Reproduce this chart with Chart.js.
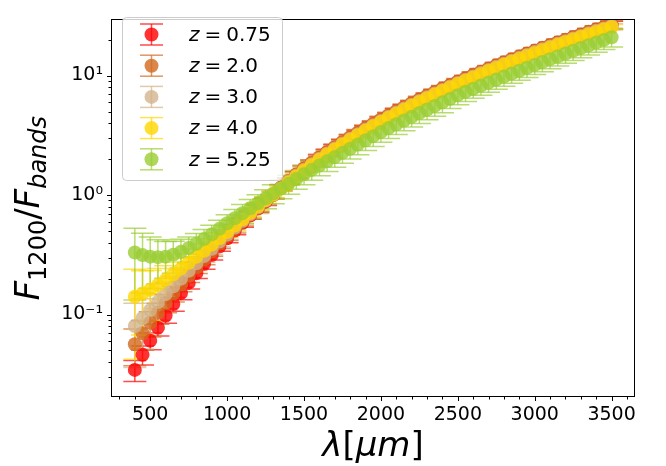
<!DOCTYPE html>
<html>
<head>
<meta charset="utf-8">
<script src="https://cdn.jsdelivr.net/npm/chart.js@4.4.0/dist/chart.umd.min.js"></script>
<style>
  html, body { margin: 0; padding: 0; background: #fff; }
  #wrap { width: 666px; height: 466px; }
</style>
</head>
<body>
<div id="wrap"><canvas id="chart"></canvas></div>
<script>
// --- DATA ---
const lambdaUm = [400, 450, 500, 550, 600, 650, 700, 750, 800, 850, 900, 950, 1000, 1050, 1100, 1150, 1200, 1250, 1300,
  1350, 1400, 1450, 1500, 1550, 1600, 1650, 1700, 1750, 1800, 1850, 1900, 1950, 2000, 2050, 2100, 2150, 2200, 2250,
  2300, 2350, 2400, 2450, 2500, 2550, 2600, 2650, 2700, 2750, 2800, 2850, 2900, 2950, 3000, 3050, 3100, 3150, 3200,
  3250, 3300, 3350, 3400, 3450, 3500];

const zValues = ['0.75', '2.0', '3.0', '4.0', '5.25'];

const ratioZ075 = [0.0344, 0.0461, 0.0604, 0.0776, 0.0982, 0.1226, 0.1509, 0.1839, 0.2219, 0.2654, 0.3149, 0.3710,
  0.4342, 0.5053, 0.5847, 0.6732, 0.7715, 0.8801, 1.000, 1.148, 1.306, 1.479, 1.653, 1.839, 2.041, 2.257, 2.488,
  2.737, 2.999, 3.281, 3.580, 3.898, 4.233, 4.590, 4.967, 5.363, 5.782, 6.223, 6.687, 7.172, 7.684, 8.220, 8.782,
  9.369, 9.984, 10.63, 11.29, 12.00, 12.72, 13.49, 14.26, 15.09, 15.94, 16.82, 17.74, 18.70, 19.69, 20.71, 21.78,
  22.87, 24.00, 25.17, 26.39];
const ratioZ2 = [0.0564, 0.0696, 0.0852, 0.1035, 0.1249, 0.1496, 0.1781, 0.2106, 0.2477, 0.2901, 0.3380, 0.3922,
  0.4532, 0.5220, 0.5989, 0.6856, 0.7823, 0.8903, 1.002, 1.154, 1.312, 1.486, 1.677, 1.866, 2.071, 2.290, 2.524,
  2.776, 3.043, 3.329, 3.632, 3.954, 4.295, 4.657, 5.039, 5.441, 5.865, 6.314, 6.784, 7.275, 7.795, 8.339, 8.909,
  9.505, 10.13, 10.78, 11.46, 12.17, 12.90, 13.68, 14.47, 15.31, 16.17, 17.06, 18.00, 18.97, 19.97, 21.01, 22.09,
  23.21, 24.35, 25.54, 26.78];
const ratioZ3 = [0.0802, 0.0934, 0.1089, 0.1272, 0.1482, 0.1725, 0.2003, 0.2320, 0.2681, 0.3090, 0.3556, 0.4080,
  0.4673, 0.5343, 0.6095, 0.6947, 0.7904, 0.8979, 1.004, 1.142, 1.300, 1.458, 1.629, 1.813, 2.011, 2.225, 2.452,
  2.697, 2.956, 3.233, 3.528, 3.841, 4.172, 4.524, 4.895, 5.286, 5.698, 6.133, 6.590, 7.068, 7.572, 8.101, 8.655,
  9.233, 9.839, 10.48, 11.13, 11.82, 12.54, 13.29, 14.06, 14.87, 15.71, 16.58, 17.48, 18.43, 19.40, 20.41, 21.46,
  22.54, 23.65, 24.81, 26.01];
const ratioZ4 = [0.141, 0.150, 0.161, 0.177, 0.195, 0.217, 0.242, 0.271, 0.304, 0.342, 0.385, 0.435, 0.491, 0.555,
  0.627, 0.710, 0.804, 0.910, 1.010, 1.131, 1.274, 1.429, 1.597, 1.777, 1.972, 2.181, 2.404, 2.644, 2.898, 3.170,
  3.459, 3.766, 4.090, 4.435, 4.799, 5.182, 5.586, 6.013, 6.461, 6.929, 7.424, 7.942, 8.485, 9.052, 9.646, 10.27,
  10.91, 11.59, 12.29, 13.03, 13.78, 14.58, 15.40, 16.25, 17.14, 18.07, 19.02, 20.01, 21.04, 22.10, 23.19, 24.32,
  25.50];
const ratioZ525 = [0.330, 0.315, 0.305, 0.302, 0.305, 0.316, 0.335, 0.360, 0.391, 0.428, 0.470, 0.521, 0.580, 0.640,
  0.705, 0.776, 0.853, 0.938, 1.031, 1.133, 1.240, 1.360, 1.490, 1.623, 1.767, 1.918, 2.082, 2.255, 2.440, 2.645,
  2.870, 3.110, 3.370, 3.632, 3.909, 4.204, 4.517, 4.849, 5.201, 5.573, 5.966, 6.381, 6.850, 7.315, 7.763, 8.234,
  8.730, 9.251, 9.800, 10.38, 10.98, 11.62, 12.28, 12.98, 13.71, 14.48, 15.28, 16.12, 17.00, 17.91, 18.87, 19.87,
  20.91];

// relative (symmetric) errors, fraction of the value
const relErrZ075 = [0.20, 0.18, 0.16, 0.15, 0.14, 0.13, 0.12, 0.11, 0.10, 0.10, 0.09, 0.09, 0.08, 0.08, 0.08, 0.07,
  0.07, 0.07, 0.07, 0.06, 0.06, 0.06, 0.06, 0.06, 0.06, 0.06, 0.06, 0.06, 0.06, 0.06, 0.06, 0.06, 0.06, 0.06, 0.06,
  0.06, 0.06, 0.06, 0.06, 0.06, 0.06, 0.06, 0.06, 0.06, 0.06, 0.06, 0.06, 0.06, 0.06, 0.06, 0.06, 0.06,
  0.065, 0.065, 0.065, 0.07, 0.07, 0.07, 0.075, 0.075, 0.08, 0.08, 0.08];
const relErrZ2 = [0.34, 0.28, 0.24, 0.20, 0.17, 0.15, 0.13, 0.12, 0.11, 0.10, 0.09, 0.09, 0.08, 0.08, 0.08, 0.07,
  0.07, 0.07, 0.07, 0.06, 0.06, 0.06, 0.06, 0.06, 0.06, 0.06, 0.06, 0.06, 0.06, 0.06, 0.06, 0.06, 0.06, 0.06, 0.06,
  0.06, 0.06, 0.06, 0.06, 0.06, 0.06, 0.06, 0.06, 0.06, 0.06, 0.06, 0.06, 0.06, 0.06, 0.06, 0.06, 0.06,
  0.06, 0.06, 0.06, 0.065, 0.065, 0.065, 0.07, 0.07, 0.07, 0.075, 0.075];
const relErrZ3 = [0.55, 0.45, 0.37, 0.30, 0.25, 0.21, 0.18, 0.15, 0.13, 0.12, 0.11, 0.10, 0.09, 0.08, 0.08, 0.07,
  0.07, 0.07, 0.06, 0.05, 0.05, 0.05, 0.05, 0.05, 0.05, 0.05, 0.05, 0.05, 0.05, 0.05, 0.05, 0.05, 0.05, 0.05, 0.05,
  0.05, 0.05, 0.05, 0.05, 0.05, 0.05, 0.05, 0.05, 0.05, 0.05, 0.05, 0.05, 0.05, 0.05, 0.05, 0.05, 0.05,
  0.05, 0.05, 0.05, 0.05, 0.05, 0.05, 0.05, 0.05, 0.05, 0.05, 0.05];
const relErrZ4 = [0.70, 0.55, 0.45, 0.37, 0.31, 0.26, 0.22, 0.19, 0.16, 0.14, 0.12, 0.11, 0.10, 0.09, 0.08, 0.07,
  0.07, 0.06, 0.06, 0.05, 0.05, 0.05, 0.05, 0.05, 0.05, 0.05, 0.05, 0.05, 0.05, 0.05, 0.05, 0.05, 0.05, 0.05, 0.05,
  0.05, 0.05, 0.05, 0.05, 0.05, 0.05, 0.05, 0.05, 0.05, 0.05, 0.05, 0.05, 0.05, 0.05, 0.05, 0.05, 0.05,
  0.05, 0.05, 0.05, 0.05, 0.05, 0.05, 0.05, 0.05, 0.05, 0.05, 0.05];
const relErrZ525 = [0.60, 0.52, 0.46, 0.40, 0.34, 0.30, 0.27, 0.24, 0.22, 0.20, 0.19, 0.18, 0.18, 0.18, 0.18, 0.18,
  0.18, 0.18, 0.18, 0.18, 0.18, 0.18, 0.18, 0.18, 0.18, 0.18, 0.18, 0.18, 0.18, 0.18, 0.18, 0.18, 0.18, 0.18, 0.18,
  0.18, 0.18, 0.18, 0.18, 0.18, 0.18, 0.17, 0.17, 0.17, 0.17, 0.17, 0.17, 0.17, 0.17, 0.17, 0.17, 0.17, 0.17, 0.17,
  0.17, 0.17, 0.17, 0.17, 0.17, 0.17, 0.17, 0.17, 0.17];

const ratios = [ratioZ075, ratioZ2, ratioZ3, ratioZ4, ratioZ525];
const relErrors = [relErrZ075, relErrZ2, relErrZ3, relErrZ4, relErrZ525];

// axis ticks
const xMajorTicks = [500, 1000, 1500, 2000, 2500, 3000, 3500];
const xMinorTicks = [300, 400, 600, 700, 800, 900, 1100, 1200, 1300, 1400, 1600, 1700, 1800, 1900, 2100, 2200, 2300,
  2400, 2600, 2700, 2800, 2900, 3100, 3200, 3300, 3400, 3600];
const yMajorTicks = [0.1, 1, 10];
const yTickLabels = ['10\u207B\u00B9', '10\u2070', '10\u00B9'];
const yMinorTicks = [0.03, 0.04, 0.05, 0.06, 0.07, 0.08, 0.09, 0.2, 0.3, 0.4, 0.5, 0.6, 0.7, 0.8, 0.9,
  2, 3, 4, 5, 6, 7, 8, 9, 20];

// --- STYLE ---
const FONT = "'DejaVu Sans', sans-serif";
const seriesRGB = ['255,0,0', '210,105,30', '210,180,140', '255,215,0', '154,205,50'];
const MARKER_R = 7;
const CAP = 11.5;

// ===========================================
// PLUGINS
// ===========================================

function drawErrorBar(ctx, px, top, bot, cap) {
    ctx.beginPath();
    ctx.moveTo(px, top); ctx.lineTo(px, bot);
    ctx.stroke();
    ctx.beginPath();
    ctx.moveTo(px - cap, top); ctx.lineTo(px + cap, top);
    ctx.stroke();
    ctx.beginPath();
    ctx.moveTo(px - cap, bot); ctx.lineTo(px + cap, bot);
    ctx.stroke();
}

// all error bars sit below all markers (like matplotlib's errorbar zorder)
const errorBarPlugin = {
    id: 'errorBars',
    beforeDatasetsDraw(chart) {
        const xs = chart.scales.x, ys = chart.scales.y;
        const a = chart.chartArea, ctx = chart.ctx;
        ctx.save();
        ctx.beginPath();
        ctx.rect(a.left, a.top, a.right - a.left, a.bottom - a.top);
        ctx.clip();
        ctx.lineWidth = 1.5;
        chart.data.datasets.forEach(ds => {
            ctx.strokeStyle = ds.barColor;
            ds.data.forEach((p, i) => {
                const e = p.y * ds.relErr[i];
                drawErrorBar(ctx, xs.getPixelForValue(p.x), ys.getPixelForValue(p.y + e),
                    ys.getPixelForValue(p.y - e), CAP);
            });
        });
        ctx.restore();
    }
};

// draws text made of runs with different fonts / offsets
function runsWidth(ctx, runs) {
    let w = 0;
    runs.forEach(r => { ctx.font = r.font; w += ctx.measureText(r.t).width + (r.gap || 0); });
    return w;
}
function drawRuns(ctx, runs, x, y) {
    runs.forEach(r => {
        ctx.font = r.font;
        ctx.fillText(r.t, x, y + (r.dy || 0));
        x += ctx.measureText(r.t).width + (r.gap || 0);
    });
}

const framePlugin = {
    id: 'frame',
    afterDatasetsDraw(chart) {
        const ctx = chart.ctx, a = chart.chartArea;
        const xs = chart.scales.x, ys = chart.scales.y;
        ctx.save();
        ctx.strokeStyle = '#000';
        ctx.lineWidth = 1;
        ctx.strokeRect(Math.round(a.left) + 0.5, Math.round(a.top) + 0.5,
            Math.round(a.right - a.left) - 1, Math.round(a.bottom - a.top) - 1);
        const bottom = Math.round(a.bottom);
        const left = Math.round(a.left);
        ctx.beginPath();
        xMajorTicks.forEach(v => {
            const px = Math.round(xs.getPixelForValue(v)) + 0.5;
            ctx.moveTo(px, bottom); ctx.lineTo(px, bottom + 4);
        });
        xMinorTicks.forEach(v => {
            const px = Math.round(xs.getPixelForValue(v)) + 0.5;
            ctx.moveTo(px, bottom); ctx.lineTo(px, bottom + 2.5);
        });
        yMajorTicks.forEach(v => {
            const py = Math.round(ys.getPixelForValue(v)) + 0.5;
            ctx.moveTo(left, py); ctx.lineTo(left - 4, py);
        });
        yMinorTicks.forEach(v => {
            const py = Math.round(ys.getPixelForValue(v)) + 0.5;
            ctx.moveTo(left, py); ctx.lineTo(left - 2.5, py);
        });
        ctx.stroke();
        ctx.restore();
    },
    afterDraw(chart) {
        const ctx = chart.ctx, a = chart.chartArea;
        ctx.save();
        ctx.fillStyle = '#000';
        ctx.textBaseline = 'alphabetic';

        // x title: lambda [mu m]
        const big = '34px ' + FONT, bigI = 'italic 34px ' + FONT;
        const xRuns = [{ t: '\u03BB', font: bigI }, { t: '[', font: big }, { t: '\u03BCm', font: bigI }, { t: ']', font: big }];
        const xw = runsWidth(ctx, xRuns);
        drawRuns(ctx, xRuns, (a.left + a.right) / 2 - xw / 2, 456);

        // y title: F_1200 / F_bands
        const sub = '24px ' + FONT, subI = 'italic 24px ' + FONT;
        const yRuns = [{ t: 'F', font: bigI }, { t: '1200', font: sub, dy: 7 }, { t: '/', font: big },
            { t: 'F', font: bigI }, { t: 'bands', font: subI, dy: 7 }];
        const yw = runsWidth(ctx, yRuns);
        ctx.translate(39, (a.top + a.bottom) / 2);
        ctx.rotate(-Math.PI / 2);
        drawRuns(ctx, yRuns, -yw / 2, 0);
        ctx.restore();

        // legend
        ctx.save();
        const bx = 122.5, by = 17.5, bw = 160, bh = 163, r = 4;
        ctx.beginPath();
        ctx.moveTo(bx + r, by);
        ctx.arcTo(bx + bw, by, bx + bw, by + bh, r);
        ctx.arcTo(bx + bw, by + bh, bx, by + bh, r);
        ctx.arcTo(bx, by + bh, bx, by, r);
        ctx.arcTo(bx, by, bx + bw, by, r);
        ctx.closePath();
        ctx.fillStyle = 'rgba(255,255,255,0.8)';
        ctx.fill();
        ctx.strokeStyle = '#cccccc';
        ctx.lineWidth = 1;
        ctx.stroke();

        ctx.textBaseline = 'middle';
        chart.data.datasets.forEach((ds, k) => {
            const cy = 34.5 + k * 31.2;
            const mx = 151.5;
            ctx.strokeStyle = ds.barColor;
            ctx.lineWidth = 1.5;
            drawErrorBar(ctx, mx, cy - 10.5, cy + 10.5, CAP);
            ctx.beginPath();
            ctx.arc(mx, cy, MARKER_R, 0, Math.PI * 2);
            ctx.fillStyle = ds.backgroundColor;
            ctx.fill();
            ctx.fillStyle = '#000';
            drawRuns(ctx, [{ t: 'z', font: 'italic 20px ' + FONT, gap: 5 }, { t: '=', font: '20px ' + FONT, gap: 5 },
                { t: zValues[k], font: '20px ' + FONT }], 189, cy + 1);
        });
        ctx.restore();
    }
};

// ===========================================
// CHART
// ===========================================

const datasets = zValues.map((z, k) => ({
    label: 'z = ' + z,
    data: lambdaUm.map((x, i) => ({ x: x, y: ratios[k][i] })),
    relErr: relErrors[k],
    order: zValues.length - 1 - k,
    backgroundColor: 'rgba(' + seriesRGB[k] + ',0.8)',
    barColor: 'rgba(' + seriesRGB[k] + ',0.7)',
    pointRadius: MARKER_R,
    pointHoverRadius: MARKER_R,
    pointBorderWidth: 0,
    borderWidth: 0,
    showLine: false
}));

new Chart(document.getElementById('chart').getContext('2d'), {
    type: 'scatter',
    data: { datasets: datasets },
    options: {
        responsive: true,
        maintainAspectRatio: false,
        animation: false,
        events: [],
        layout: { padding: { top: 7, right: 31, left: 0, bottom: 0 } },
        plugins: {
            legend: { display: false },
            tooltip: { enabled: false }
        },
        scales: {
            x: {
                type: 'linear',
                min: 245,
                max: 3652,
                grid: { display: false, drawTicks: false },
                border: { display: false },
                afterBuildTicks: s => { s.ticks = xMajorTicks.map(v => ({ value: v })); },
                afterFit: s => { s.height = 69; },
                ticks: {
                    autoSkip: false,
                    maxRotation: 0,
                    padding: 7,
                    color: '#000',
                    font: { family: FONT, size: 19 },
                    callback: v => String(v)
                }
            },
            y: {
                type: 'logarithmic',
                min: 0.0204,
                max: 29.5,
                grid: { display: false, drawTicks: false },
                border: { display: false },
                afterBuildTicks: s => { s.ticks = yMajorTicks.map(v => ({ value: v })); },
                afterFit: s => { s.width = 111; },
                ticks: {
                    autoSkip: false,
                    padding: 8,
                    color: '#000',
                    font: { family: FONT, size: 19 },
                    callback: (v, i) => yTickLabels[i]
                }
            }
        }
    },
    plugins: [errorBarPlugin, framePlugin]
});
</script>
</body>
</html>
